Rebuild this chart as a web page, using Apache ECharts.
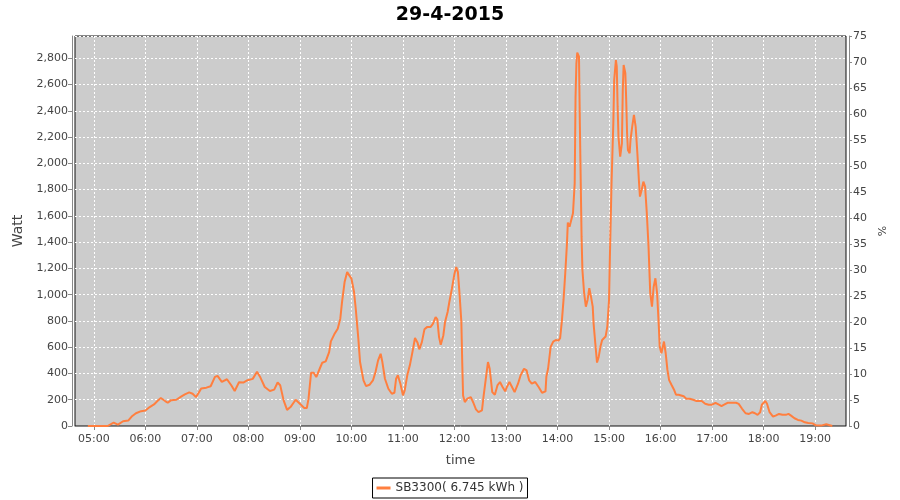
<!DOCTYPE html>
<html>
<head>
<meta charset="utf-8">
<script src="https://cdn.jsdelivr.net/npm/echarts@6/dist/echarts.min.js"></script>
<style>html,body{margin:0;padding:0;background:#fff;}#c{width:900px;height:500px;}</style>
</head>
<body>
<div id="c"></div>
<script>
// ---- data ----
const titleText = '29-4-2015';
const seriesName = 'SB3300( 6.745 kWh )';
const hourLabels = ['05:00','06:00','07:00','08:00','09:00','10:00','11:00','12:00','13:00','14:00','15:00','16:00','17:00','18:00','19:00'];
const times = ['04:53','05:16','05:23','05:28','05:34','05:40','05:44','05:49','05:55','06:00','06:05','06:10','06:14','06:18','06:23','06:26','06:30','06:36','06:42','06:46','06:51','06:55','06:59','07:05','07:11','07:16','07:21','07:24','07:29','07:35','07:40','07:44','07:49','07:54','07:59','08:05','08:10','08:14','08:19','08:25','08:30','08:34','08:37','08:41','08:45','08:49','08:55','08:59','09:05','09:08','09:10','09:13','09:16','09:19','09:23','09:26','09:30','09:34','09:36','09:40','09:44','09:47','09:49','09:52','09:55','09:57','10:00','10:03','10:05','10:08','10:10','10:14','10:17','10:21','10:25','10:28','10:31','10:34','10:36','10:39','10:43','10:47','10:50','10:52','10:54','10:57','11:00','11:02','11:05','11:08','11:11','11:14','11:17','11:19','11:22','11:25','11:28','11:32','11:35','11:38','11:40','11:42','11:44','11:47','11:49','11:52','11:54','11:57','12:00','12:02','12:04','12:06','12:08','12:09','12:10','12:12','12:15','12:19','12:22','12:25','12:28','12:32','12:34','12:37','12:39','12:41','12:44','12:47','12:50','12:53','12:56','12:59','13:01','13:04','13:07','13:10','13:14','13:17','13:21','13:24','13:27','13:30','13:34','13:38','13:42','13:46','13:47','13:49','13:52','13:55','13:58','14:01','14:03','14:05','14:07','14:09','14:11','14:12','14:14','14:16','14:18','14:20','14:21','14:22','14:23','14:25','14:26','14:27','14:28','14:29','14:31','14:33','14:35','14:37','14:39','14:41','14:42','14:44','14:46','14:48','14:50','14:52','14:56','14:58','15:00','15:01','15:03','15:05','15:06','15:08','15:09','15:10','15:11','15:13','15:15','15:16','15:17','15:19','15:20','15:21','15:22','15:24','15:25','15:27','15:29','15:31','15:33','15:35','15:36','15:38','15:40','15:42','15:44','15:46','15:48','15:50','15:52','15:54','15:56','15:58','15:59','16:01','16:04','16:06','16:08','16:10','16:13','16:16','16:18','16:21','16:23','16:27','16:30','16:34','16:38','16:42','16:48','16:52','16:56','17:00','17:04','17:08','17:11','17:14','17:18','17:23','17:28','17:31','17:35','17:39','17:43','17:47','17:50','17:53','17:56','17:58','18:02','18:04','18:07','18:11','18:14','18:18','18:22','18:26','18:29','18:32','18:36','18:40','18:44','18:48','18:52','18:57','19:01','19:07','19:13','19:16','19:20'];
const watts = [0,0,26,10,36,41,72,97,113,118,144,164,190,213,190,177,197,200,226,241,256,246,220,285,292,303,374,382,336,356,310,267,333,331,349,359,413,369,297,267,277,331,310,195,123,144,200,175,137,137,208,406,406,373,436,482,492,563,644,698,741,817,944,1096,1172,1172,1122,1020,893,665,487,347,304,314,347,411,500,550,487,360,284,246,253,360,386,322,233,271,386,462,563,670,634,584,639,736,753,753,779,830,812,677,619,690,792,868,944,1046,1160,1210,1172,995,792,487,233,182,208,220,177,127,106,119,233,386,487,436,258,238,309,335,297,264,297,335,297,258,322,386,436,423,347,322,335,297,253,264,376,436,603,643,655,650,668,795,960,1163,1391,1549,1518,1518,1620,1848,2508,2762,2843,2813,2305,1874,1442,1188,1011,909,960,1049,985,909,782,630,483,528,605,655,681,757,960,1290,1874,2305,2635,2787,2737,2432,2204,2051,2153,2559,2749,2686,2483,2229,2102,2077,2178,2280,2369,2280,2077,1848,1747,1797,1861,1823,1620,1366,1011,909,1061,1125,1011,757,605,554,643,554,427,349,310,272,238,238,251,226,208,208,200,190,190,169,162,162,177,162,151,162,177,177,177,169,131,97,92,105,97,85,105,162,190,169,105,72,79,92,85,85,92,79,59,46,41,28,23,20,5,3,13,8,0];

// category axis of minutes spanning the plotted window
const axisStart = '04:38', axisEnd = '19:36';
function toMin(s){const p=s.split(':');return (+p[0])*60+(+p[1]);}
function fmt(m){const h=Math.floor(m/60),mm=m%60;return (h<10?'0':'')+h+':'+(mm<10?'0':'')+mm;}
const categories = [];
for (let m = toMin(axisStart); m <= toMin(axisEnd); m++) categories.push(fmt(m));
const isHour = (i, v) => hourLabels.indexOf(v) >= 0;

const FONT = 'DejaVu Sans';
const chart = echarts.init(document.getElementById('c'), null, {renderer:'canvas'});
chart.setOption({
  animation: false,
  backgroundColor: '#ffffff',
  textStyle: {fontFamily: FONT},
  title: {
    text: titleText, left: 'center', top: 0, padding: [6, 5],
    textStyle: {fontSize: 19, fontWeight: 'bold', color: '#000', fontFamily: FONT}
  },
  legend: {
    data: [seriesName], bottom: 2, left: 'center',
    borderColor: '#000', borderWidth: 1, padding: [4, 4],
    icon: 'rect', itemWidth: 14, itemHeight: 3, itemGap: 4,
    textStyle: {fontSize: 12, color: '#333', fontFamily: FONT}
  },
  grid: {
    left: 75, right: 54, top: 36, bottom: 74,
    show: true, backgroundColor: '#cccccc', borderColor: '#111', borderWidth: 1
  },
  xAxis: {
    type: 'category', data: categories, boundaryGap: false, offset: 4,
    name: 'time', nameLocation: 'middle', nameGap: 24,
    nameTextStyle: {fontSize: 13, color: '#444', fontFamily: FONT},
    axisLine: {show: true, lineStyle: {color: '#888', width: 1}},
    axisTick: {show: true, interval: isHour, length: 4, lineStyle: {color: '#888'}},
    axisLabel: {interval: isHour, fontSize: 11, color: '#444', margin: 4, fontFamily: FONT},
    splitLine: {show: true, interval: isHour, lineStyle: {color: '#ffffff', type: [2, 2], width: 1}}
  },
  yAxis: [{
    type: 'value', min: 0, max: 2970, interval: 200, position: 'left', offset: 3,
    name: 'Watt', nameLocation: 'middle', nameGap: 45,
    nameTextStyle: {fontSize: 14, color: '#444', fontFamily: FONT},
    axisLine: {show: true, lineStyle: {color: '#888', width: 1}},
    axisTick: {show: true, length: 4, lineStyle: {color: '#888'}},
    axisLabel: {
      fontSize: 11, color: '#444', margin: 4, showMaxLabel: false, fontFamily: FONT,
      formatter: v => (v % 200 === 0 && v <= 2800) ? v.toLocaleString('en-US') : ''
    },
    splitLine: {show: true, lineStyle: {color: '#ffffff', type: [2, 2], width: 1}}
  }, {
    type: 'value', min: 0, max: 75, interval: 5, position: 'right', offset: 3,
    name: '%', nameLocation: 'middle', nameGap: 26,
    nameTextStyle: {fontSize: 11, color: '#444', fontFamily: FONT},
    axisLine: {show: true, lineStyle: {color: '#888', width: 1}},
    axisTick: {show: true, length: 3, lineStyle: {color: '#888'}},
    axisLabel: {fontSize: 11, color: '#444', margin: 4, fontFamily: FONT},
    splitLine: {show: false}
  }],
  series: [{
    name: seriesName, type: 'line', yAxisIndex: 0, xAxisIndex: 0,
    data: times.map((t, i) => [t, watts[i]]),
    showSymbol: false, symbol: 'none',
    lineStyle: {color: '#ff7f3f', width: 2},
    itemStyle: {color: '#ff7f3f'}
  }]
});
</script>
</body>
</html>
